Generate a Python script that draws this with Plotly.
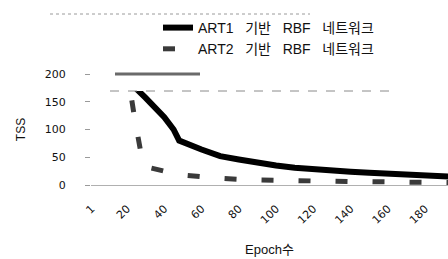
import plotly.graph_objects as go

# ---- data ----
art1_epochs = [1, 10, 20, 30, 40, 45, 48, 60, 70, 80, 90, 100, 110, 120, 130, 140, 150, 160, 170, 180, 190, 200]
art1_tss = [260, 225, 190, 157, 122, 100, 80, 64, 52, 46, 40, 35, 31, 28, 26, 24, 22, 20, 19, 17, 15, 14]

art2_epochs = [1, 10, 20, 22, 24, 26, 28, 30, 34, 40, 50, 60, 70, 80, 90, 100, 110, 120, 130, 140, 150, 160, 170, 180, 190, 200]
art2_tss = [260, 230, 190, 165, 122, 85, 48, 33, 29, 25, 18, 14, 12, 10, 9, 9, 9, 7, 6, 6, 6, 5, 4, 4, 4, 4]

x_tick_vals = [1, 20, 40, 60, 80, 100, 120, 140, 160, 180, 200]
x_tick_text = ["1", "20", "40", "60", "80", "100", "120", "140", "160", "180", "200"]
y_tick_vals = [0, 50, 100, 150, 200]

SP = "\u00a0\u00a0 "
name1 = "ART1" + SP + "기반" + SP + "RBF" + SP + "네트워크"
name2 = "ART2" + SP + "기반" + SP + "RBF" + SP + "네트워크"

FONT = "Liberation Sans, Arial, Noto Sans CJK KR, sans-serif"

W, H = 448, 259
L, R, T, B = 91, 0, 74, 74
pw, ph = W - L - R, H - T - B


def px_x(p):
    return (p - L) / pw


def px_y(p):
    return (H - B - p) / ph


fig = go.Figure()
fig.add_trace(go.Scatter(x=art1_epochs, y=art1_tss, mode="lines", name=name1,
                         line=dict(color="#000000", width=6)))
fig.add_trace(go.Scatter(x=art2_epochs, y=art2_tss, mode="lines", name=name2,
                         line=dict(color="#3a3a3a", width=5, dash="12px,25px")))

shapes = [
    # legend backdrop
    dict(type="rect", xref="paper", yref="paper", x0=px_x(105), x1=px_x(392),
         y0=px_y(91), y1=px_y(12), fillcolor="white", line=dict(width=0), layer="above"),
    dict(type="line", xref="paper", yref="paper", x0=px_x(110), x1=px_x(392),
         y0=px_y(91), y1=px_y(91), line=dict(color="#8a8a8a", width=1, dash="dash"), layer="above"),
    dict(type="line", xref="paper", yref="paper", x0=px_x(50), x1=px_x(310),
         y0=px_y(14), y1=px_y(14), line=dict(color="#9a9a9a", width=1, dash="dot"), layer="above"),
    dict(type="line", xref="paper", yref="paper", x0=px_x(115), x1=px_x(200),
         y0=px_y(74), y1=px_y(74), line=dict(color="#6a6a6a", width=3), layer="above"),
]

fig.update_layout(
    width=W, height=H,
    margin=dict(l=L, r=R, t=T, b=B, pad=0, autoexpand=False),
    paper_bgcolor="white", plot_bgcolor="white",
    font=dict(family=FONT, size=12, color="#111111"),
    showlegend=True,
    legend=dict(x=px_x(158), y=px_y(12), xanchor="left", yanchor="top",
                bgcolor="rgba(0,0,0,0)", borderwidth=0,
                font=dict(family=FONT, size=14, color="#111111"),
                tracegroupgap=0, itemwidth=30),
    shapes=shapes,
    xaxis=dict(range=[0.67, 192.3], tickmode="array", tickvals=x_tick_vals, ticktext=x_tick_text,
               tickangle=-45, showgrid=False, zeroline=False, showline=True, automargin=False,
               linecolor="#b0b0b0", linewidth=1, ticks="", ticklabelstandoff=12,
               tickfont=dict(family="DejaVu Sans, sans-serif", size=11, color="#111111"),
               title=dict(text="Epoch수", font=dict(family=FONT, size=13, color="#111111"), standoff=19)),
    yaxis=dict(range=[0, 200], tickmode="array", tickvals=y_tick_vals, automargin=False,
               showgrid=False, zeroline=False, showline=False,
               ticks="outside", ticklen=5, tickcolor="#9a9a9a", ticklabelstandoff=17,
               tickfont=dict(family="DejaVu Sans, sans-serif", size=11, color="#111111"),
               title=dict(text="TSS", font=dict(family=FONT, size=12, color="#111111"), standoff=16)),
)

fig.write_html("out.html", config={"displayModeBar": False},
               post_script="document.body.style.margin='0';")
